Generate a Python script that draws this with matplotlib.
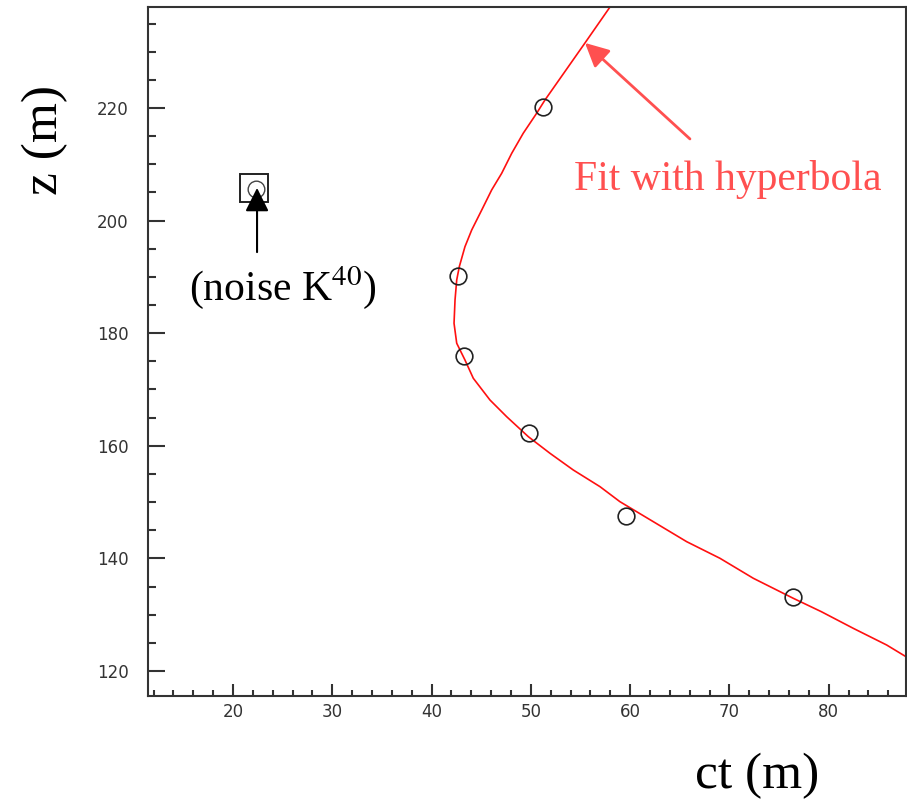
import numpy as np
import matplotlib
matplotlib.use("Agg")
from matplotlib import pyplot as plt
from matplotlib.ticker import MultipleLocator

# hit positions (ct, z)
hit_ct = [51.25, 42.63, 43.29, 49.81, 59.58, 76.42]
hit_z = [220.2, 190.2, 175.9, 162.2, 147.5, 133.1]

# K40 noise hit
noise_ct = [22.3]
noise_z = [205.6]

# fitted hyperbola
fit_ct = [57.97, 55.45, 51.42, 50.58, 49.23, 48.07, 47.06, 46.05, 45.05, 44.04,
          43.36, 42.79, 42.53, 42.36, 42.26, 42.53, 43.36, 44.20, 45.88, 47.56,
          49.74, 51.92, 54.27, 56.96, 58.97, 62.33, 65.69, 69.04, 72.40, 76.43,
          79.26, 82.47, 85.83, 87.78]
fit_z = [237.94, 231.55, 221.42, 219.06, 215.51, 211.95, 208.40, 205.44, 201.88, 198.33,
         195.36, 191.81, 189.45, 185.90, 181.76, 178.21, 175.24, 171.99, 168.13, 165.17,
         161.62, 158.67, 155.70, 152.74, 150.07, 146.52, 142.97, 140.02, 136.47, 132.91,
         130.53, 127.58, 124.62, 122.54]

xlim = (11.44, 87.78)
ylim = (115.56, 237.94)

plt.rcParams['mathtext.fontset'] = 'stix'
serif = ['Liberation Serif', 'DejaVu Serif']
red_txt = '#ff5050'
axc = '#333333'

fig = plt.figure(figsize=(9.07, 8.0), dpi=100)
ax = fig.add_axes([0.1632, 0.13, 0.8357, 0.8613])

ax.plot(fit_ct, fit_z, color='#ff1010', lw=1.2, zorder=2)
ax.plot(hit_ct, hit_z, 'o', ms=12, mfc='none', mec='#222222', mew=1.2, zorder=3)
ax.plot(noise_ct, noise_z, 'o', ms=12, mfc='none', mec='#444444', mew=1.0, zorder=3)
ax.plot([22.15], [205.7], 's', ms=19.5, mfc='none', mec='#222222', mew=1.4, zorder=3)

ax.set_xlim(*xlim)
ax.set_ylim(*ylim)

ax.xaxis.set_major_locator(MultipleLocator(10))
ax.xaxis.set_minor_locator(MultipleLocator(2))
ax.yaxis.set_major_locator(MultipleLocator(20))
ax.yaxis.set_minor_locator(MultipleLocator(5))

ax.tick_params(axis='both', which='both', direction='in', colors=axc, width=1.5,
               top=False, right=False, labelsize=12, labelcolor='#333333')
ax.tick_params(axis='y', which='major', length=12, pad=14)
ax.tick_params(axis='y', which='minor', length=6)
ax.tick_params(axis='x', which='major', length=8.6, pad=5)
ax.tick_params(axis='x', which='minor', length=4.3)
for s in ax.spines.values():
    s.set_color(axc)
    s.set_linewidth(1.5)

# annotations
ax.annotate('', xy=(22.42, 205.8), xytext=(22.42, 194.4),
            arrowprops=dict(arrowstyle='-|>,head_length=0.4,head_width=0.2', mutation_scale=36,
                            color='black', lw=1.5, shrinkA=0, shrinkB=0))
ax.text(25.04, 185.9, '(noise K$^{40}$)', family=serif, fontsize=30, ha='center', va='baseline')

ax.annotate('', xy=(55.45, 231.55), xytext=(66.02, 214.5),
            arrowprops=dict(arrowstyle='-|>,head_length=0.4,head_width=0.2', mutation_scale=36,
                            color=red_txt, lw=2, shrinkA=0, shrinkB=0))
ax.text(69.85, 205.4, 'Fit with hyperbola', family=serif, fontsize=30, color=red_txt,
        ha='center', va='baseline')

fig.text(0.0496, 0.825, 'z (m)', family=serif, fontsize=37, rotation=90, ha='center', va='center')
fig.text(0.8346, 0.03, 'ct (m)', family=serif, fontsize=37, ha='center', va='center')

fig.savefig('out.png', dpi=100)
